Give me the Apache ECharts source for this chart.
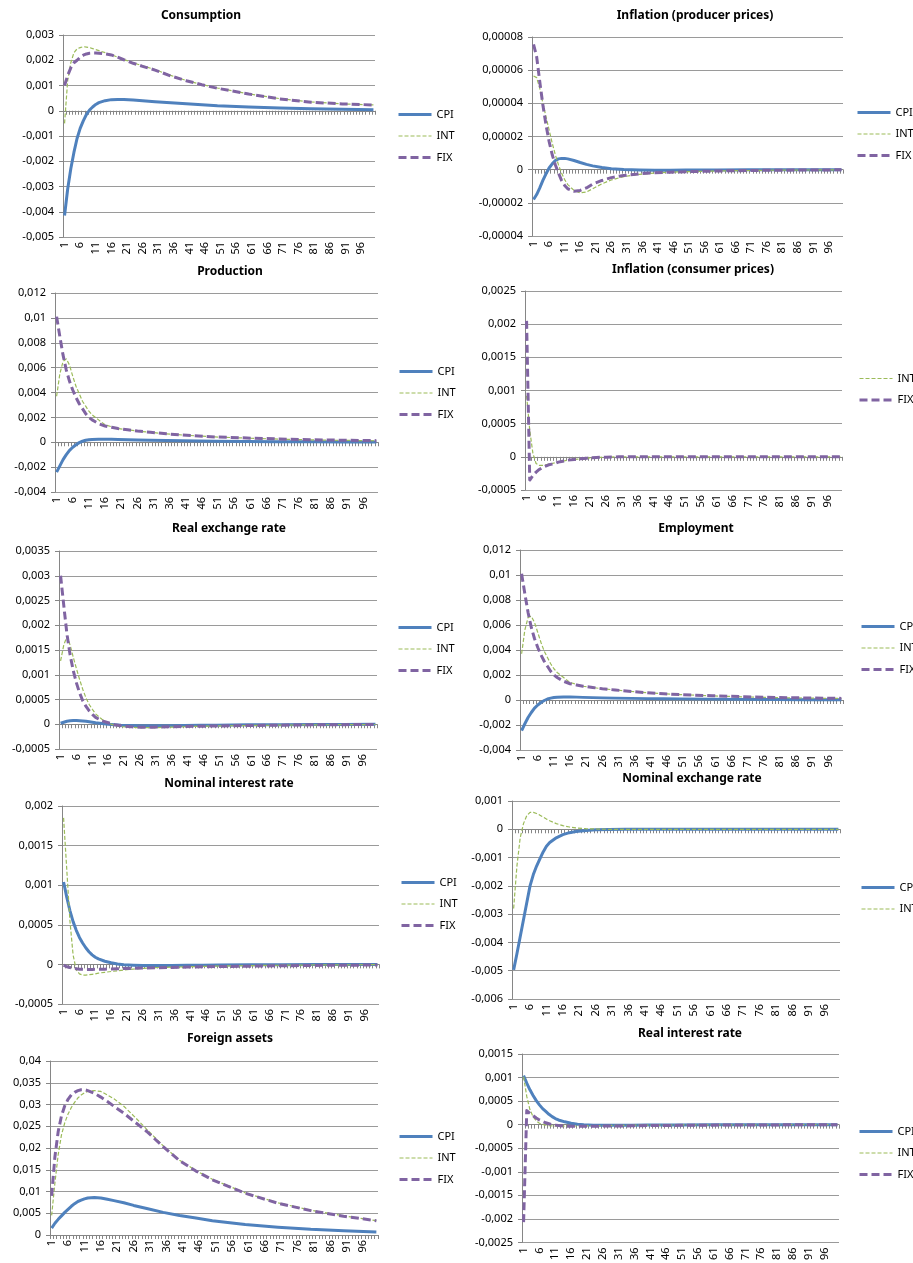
<!DOCTYPE html>
<html><head><meta charset="utf-8">
<script src="https://cdn.jsdelivr.net/npm/echarts@6/dist/echarts.min.js"></script>
<style>html,body{margin:0;padding:0;background:#fff}#c{width:913px;height:1263px}</style>
</head><body><div id="c"></div>
<script>
// ---------- DATA ----------
const periods = [1,2,3,4,5,6,7,8,9,10,11,12,14,16,18,20,23,26,30,35,40,45,50,60,70,80,90,100];
const categories = Array.from({length: 100}, (_, i) => String(i + 1));

const consumptionCPI = [-0.00415,-0.0031,-0.0023,-0.00165,-0.0011,-0.0007,-0.0004,-0.00015,0.00003,0.00015,0.00025,0.00032,0.0004,0.00044,0.00045,0.00045,0.00043,0.0004,0.00036,0.00032,0.00028,0.00024,0.0002,0.00015,0.00011,0.00008,0.00006,0.00004];
const consumptionINT = [-0.0005,0.0012,0.0019,0.0023,0.00245,0.0025,0.00254,0.00252,0.0025,0.00246,0.00242,0.00238,0.0023,0.00222,0.00212,0.00203,0.0019,0.00178,0.00163,0.0014,0.0012,0.00104,0.0009,0.00067,0.00048,0.00035,0.00027,0.00023];
const consumptionFIX = [0.001,0.0014,0.0017,0.0019,0.002,0.00212,0.0022,0.00225,0.00228,0.00229,0.00229,0.00228,0.00225,0.00221,0.00212,0.00202,0.00188,0.00176,0.00161,0.00138,0.00119,0.00103,0.00089,0.00066,0.00047,0.00034,0.00027,0.00023];

const ppiCPI = [-0.000018,-0.000015,-0.000011,-0.0000065,-0.0000025,0.000001,0.0000035,0.0000055,0.0000065,0.0000068,0.0000068,0.0000065,0.0000055,0.0000043,0.0000032,0.0000023,0.0000013,0.0000006,0.0000001,-0.0000002,-0.0000003,-0.0000003,-0.0000002,-0.0000002,-0.0000001,-0.0000001,0,0];
const ppiINT = [0.0000565,0.0000555,0.000049,0.00004,0.000032,0.000024,0.000016,0.000009,0.000003,-0.000002,-0.000006,-0.000009,-0.0000125,-0.000014,-0.0000135,-0.0000115,-0.0000085,-0.0000062,-0.0000042,-0.0000028,-0.000002,-0.0000015,-0.0000012,-0.0000008,-0.0000005,-0.0000003,-0.0000002,-0.0000001];
const ppiFIX = [0.0000755,0.000068,0.000053,0.000039,0.000027,0.000017,0.000009,0.000003,-0.000002,-0.0000065,-0.0000095,-0.0000115,-0.000013,-0.0000125,-0.000011,-0.0000087,-0.0000065,-0.0000048,-0.0000035,-0.0000025,-0.0000019,-0.0000015,-0.0000012,-0.0000008,-0.0000005,-0.0000003,-0.0000002,-0.0000001];

const productionCPI = [-0.0024,-0.0019,-0.0014,-0.001,-0.00065,-0.0004,-0.0002,-0.00003,0.00008,0.00016,0.0002,0.00023,0.00025,0.00025,0.00024,0.00022,0.0002,0.00018,0.00016,0.00014,0.00012,0.0001,0.00009,0.00007,0.00005,0.00004,0.00003,0.00002];
const productionINT = [0.0037,0.0055,0.0065,0.0067,0.0062,0.0053,0.0045,0.0039,0.0033,0.0029,0.0025,0.0022,0.0018,0.0014,0.00125,0.0011,0.001,0.0009,0.0008,0.00068,0.00058,0.0005,0.00043,0.00033,0.00025,0.00019,0.00015,0.00012];
const productionFIX = [0.0101,0.0085,0.007,0.0058,0.0049,0.0042,0.0036,0.0031,0.0027,0.0023,0.002,0.0018,0.0015,0.0013,0.0012,0.0011,0.001,0.0009,0.0008,0.00068,0.00058,0.0005,0.00043,0.00034,0.00026,0.0002,0.00016,0.00013];

const cpiInflINT = [0.00092,0.0004,0.00005,-0.0001,-0.00013,-0.00013,-0.00012,-0.00011,-0.0001,-0.00009,-0.00008,-0.00007,-0.00005,-0.00004,-0.00003,-0.00002,-0.00001,-0.000005,0,0,0,0,0,0,0,0,0,0];
const cpiInflFIX = [0.00205,-0.00035,-0.00028,-0.00023,-0.00019,-0.00016,-0.00014,-0.00012,-0.00011,-0.0001,-0.00008,-0.00007,-0.00005,-0.00004,-0.00003,-0.00002,-0.00001,-0.000005,0,0,0,0,0,0,0,0,0,0];

const rerCPI = [0.00002,0.00004,0.00006,0.00007,0.000075,0.000075,0.00007,0.000065,0.00006,0.00005,0.00004,0.00003,0.000015,0,-0.00001,-0.00002,-0.000025,-0.00003,-0.00003,-0.00003,-0.000025,-0.00002,-0.000018,-0.000012,-0.000008,-0.000005,-0.000003,-0.000002];
const rerINT = [0.00128,0.0016,0.00177,0.0016,0.00135,0.00112,0.0009,0.0007,0.00053,0.0004,0.0003,0.00021,0.0001,0.00002,-0.00002,-0.00005,-0.00006,-0.00007,-0.00007,-0.00006,-0.00005,-0.00004,-0.000035,-0.000025,-0.000018,-0.000012,-0.000008,-0.000005];
const rerFIX = [0.003,0.0024,0.00182,0.0014,0.00108,0.00083,0.00063,0.00047,0.00036,0.00027,0.0002,0.00014,0.00007,0.00003,-0.00001,-0.00003,-0.00005,-0.00006,-0.00006,-0.00005,-0.000045,-0.00004,-0.000035,-0.000025,-0.000018,-0.000012,-0.000008,-0.000005];

const employmentCPI = [-0.00245,-0.0019,-0.0014,-0.001,-0.00065,-0.0004,-0.0002,-0.00004,0.00008,0.00015,0.0002,0.00022,0.00024,0.00024,0.00023,0.00021,0.00019,0.00017,0.00015,0.00013,0.00011,0.0001,0.00009,0.00007,0.00005,0.00004,0.00003,0.00002];
const employmentINT = [0.0037,0.0056,0.0066,0.0067,0.0062,0.0054,0.0046,0.0039,0.0034,0.0029,0.0025,0.0022,0.0018,0.0014,0.00125,0.0011,0.001,0.0009,0.0008,0.00068,0.00058,0.0005,0.00043,0.00033,0.00025,0.00019,0.00015,0.00012];
const employmentFIX = [0.0101,0.0085,0.007,0.0058,0.0049,0.0042,0.0036,0.0031,0.0027,0.0023,0.002,0.0018,0.0015,0.0013,0.0012,0.0011,0.001,0.0009,0.0008,0.00068,0.00058,0.0005,0.00043,0.00034,0.00026,0.0002,0.00016,0.00013];

const nirCPI = [0.00104,0.00085,0.00068,0.00054,0.00043,0.00034,0.00027,0.00021,0.00016,0.00012,0.00009,0.00007,0.00004,0.00002,0.000005,-0.000005,-0.00001,-0.000015,-0.000015,-0.000015,-0.000012,-0.00001,-0.000008,-0.000005,-0.000003,-0.000002,-0.000001,0];
const nirINT = [0.00185,0.0012,0.00055,0.00012,-0.00007,-0.00012,-0.000135,-0.000135,-0.00013,-0.000125,-0.00012,-0.00011,-0.0001,-0.00009,-0.00008,-0.00007,-0.00006,-0.00005,-0.00004,-0.000035,-0.00003,-0.000025,-0.00002,-0.000015,-0.00001,-0.000007,-0.000005,-0.000003];
const nirFIX = [-0.00001,-0.00003,-0.00004,-0.00005,-0.000055,-0.00006,-0.000062,-0.000063,-0.000063,-0.000063,-0.000062,-0.000062,-0.00006,-0.000058,-0.000055,-0.000052,-0.00005,-0.000046,-0.000042,-0.000038,-0.000034,-0.00003,-0.000027,-0.000022,-0.000017,-0.000013,-0.00001,-0.000008];

const nerCPI = [-0.00497,-0.0044,-0.0038,-0.0032,-0.0026,-0.002,-0.0016,-0.0013,-0.00105,-0.0008,-0.0006,-0.00047,-0.0003,-0.00019,-0.00012,-0.00008,-0.00004,-0.00002,-0.00001,0,0,0,0,0,0,0,0,0];
const nerINT = [-0.0028,-0.0013,-0.0003,0.0002,0.00048,0.0006,0.0006,0.00056,0.0005,0.00043,0.00036,0.0003,0.0002,0.00013,0.00008,0.00005,0.00002,0.00001,0,0,0,0,0,0,0,0,0,0];

const faCPI = [0.0016,0.0027,0.0036,0.0044,0.0052,0.0059,0.0066,0.0072,0.0077,0.008,0.0083,0.0085,0.0086,0.0085,0.0082,0.0079,0.0074,0.0068,0.0061,0.0052,0.0045,0.0039,0.0033,0.0024,0.0018,0.0013,0.001,0.0007];
const faINT = [0.0045,0.012,0.0185,0.023,0.0258,0.0278,0.0293,0.0305,0.0315,0.0322,0.0327,0.033,0.0332,0.033,0.0322,0.0313,0.0296,0.0274,0.0243,0.0205,0.0172,0.0148,0.0128,0.0097,0.0074,0.0057,0.0044,0.0033];
const faFIX = [0.009,0.018,0.0238,0.0274,0.0297,0.0312,0.0322,0.0328,0.0332,0.0334,0.0334,0.0332,0.0326,0.0317,0.0307,0.0296,0.028,0.0262,0.0238,0.0203,0.0171,0.0147,0.0127,0.0096,0.0073,0.0056,0.0043,0.0033];

const rirCPI = [0.00104,0.00088,0.00074,0.00062,0.00051,0.00042,0.00034,0.00028,0.00022,0.00017,0.00013,0.0001,0.00006,0.00003,0.00001,0,-0.00001,-0.00001,-0.00001,-0.00001,-0.000008,-0.000006,-0.000005,-0.000003,-0.000002,-0.000001,0,0];
const rirINT = [0.00102,0.0006,0.00032,0.00017,0.00008,0.00003,0.000005,-0.00001,-0.00002,-0.000025,-0.00003,-0.00003,-0.00003,-0.00003,-0.000028,-0.000025,-0.00002,-0.00002,-0.000015,-0.000012,-0.00001,-0.000008,-0.000006,-0.000004,-0.000003,-0.000002,-0.000001,0];
const rirFIX = [-0.00207,0.0003,0.00024,0.00019,0.00014,0.0001,0.00007,0.00004,0.00002,0,-0.00001,-0.00002,-0.00003,-0.000035,-0.000035,-0.000035,-0.000035,-0.00003,-0.00003,-0.000025,-0.00002,-0.000018,-0.000015,-0.00001,-0.000007,-0.000005,-0.000003,-0.000002];

const panelTitles = ['Consumption','Inflation (producer prices)','Production','Inflation (consumer prices)','Real exchange rate','Employment','Nominal interest rate','Nominal exchange rate','Foreign assets','Real interest rate'];
const panelSeries = [
  {CPI: consumptionCPI, INT: consumptionINT, FIX: consumptionFIX},
  {CPI: ppiCPI, INT: ppiINT, FIX: ppiFIX},
  {CPI: productionCPI, INT: productionINT, FIX: productionFIX},
  {INT: cpiInflINT, FIX: cpiInflFIX},
  {CPI: rerCPI, INT: rerINT, FIX: rerFIX},
  {CPI: employmentCPI, INT: employmentINT, FIX: employmentFIX},
  {CPI: nirCPI, INT: nirINT, FIX: nirFIX},
  {CPI: nerCPI, INT: nerINT},
  {CPI: faCPI, INT: faINT, FIX: faFIX},
  {CPI: rirCPI, INT: rirINT, FIX: rirFIX}
];
const yMin = [-0.005,-0.00004,-0.004,-0.0005,-0.0005,-0.004,-0.0005,-0.006,0,-0.0025];
const yMax = [0.003,0.00008,0.012,0.0025,0.0035,0.012,0.002,0.001,0.04,0.0015];
const yStep = [0.001,0.00002,0.002,0.0005,0.0005,0.002,0.0005,0.001,0.005,0.0005];

// ---------- LAYOUT / STYLE ----------
const layout = [
  {g:[63,35,375,237],   t:[201,14],   l:[397,115]},
  {g:[532,37,843,236],  t:[695,14],   l:[856,113]},
  {g:[55,293,378,492],  t:[230,270],  l:[398,372]},
  {g:[525,291,842,490], t:[693,268],  l:[858,379]},
  {g:[59,551,377,749],  t:[229,527],  l:[397,628]},
  {g:[520,550,843,750], t:[696,527],  l:[860,627]},
  {g:[62,806,379,1004], t:[229,782],  l:[400,883]},
  {g:[512,801,840,999], t:[692,777],  l:[860,888]},
  {g:[50,1061,378,1235],t:[230,1037], l:[398,1137]},
  {g:[522,1054,839,1253],t:[690,1032],l:[858,1132]}
];
const styles = {
  CPI: {color:'#4F81BD', width:3, type:'solid'},
  INT: {color:'#9BBB59', width:1.2, type:[4,2]},
  FIX: {color:'#8064A2', width:3, type:[8,4]}
};
const FONT = 'Noto Sans';
const axisGray = '#868686';
const fmt = v => String(+(+v).toPrecision(10)).replace('.', ',');

const option = {animation:false, textStyle:{fontFamily:FONT}, title:[], grid:[], xAxis:[], yAxis:[], legend:[], series:[]};

panelTitles.forEach((name, i) => {
  const L = layout[i];
  option.title.push({text:name, left:L.t[0], top:L.t[1]-4, textAlign:'center', padding:0,
    textStyle:{fontSize:12, fontWeight:'bold', color:'#000', fontFamily:FONT}});
  option.grid.push({left:L.g[0], top:L.g[1], width:L.g[2]-L.g[0], height:L.g[3]-L.g[1]});
  option.xAxis.push({type:'category', gridIndex:i, data:categories, boundaryGap:true,
    axisLine:{onZero:true, lineStyle:{color:axisGray}},
    axisTick:{show:true, interval:0, length:4, lineStyle:{color:axisGray}},
    axisLabel:{interval:4, rotate:90, fontSize:11, color:'#000', margin:5, fontFamily:FONT},
    splitLine:{show:false}});
  option.yAxis.push({type:'value', gridIndex:i, min:yMin[i], max:yMax[i], interval:yStep[i],
    axisLine:{show:true, lineStyle:{color:axisGray}},
    axisTick:{show:true, length:4, lineStyle:{color:axisGray}},
    axisLabel:{fontSize:11, color:'#000', margin:9, fontFamily:FONT, formatter:fmt},
    splitLine:{show:true, lineStyle:{color:'#9a9a9a', width:1}}});
  const names = Object.keys(panelSeries[i]);
  option.legend.push({orient:'vertical', left:L.l[0], top:L.l[1]-6, itemWidth:33, itemHeight:12, itemGap:10.5,
    padding:0, selectedMode:false, itemStyle:{opacity:0},
    data:names.map(n => ({name:n, lineStyle:{width:styles[n].width, type:styles[n].type, color:styles[n].color}})),
    textStyle:{fontSize:11, color:'#000', fontFamily:FONT}});
  names.forEach(n => {
    const s = styles[n];
    option.series.push({name:n, type:'line', xAxisIndex:i, yAxisIndex:i, symbol:'none', smooth:false,
      lineStyle:{color:s.color, width:s.width, type:s.type, cap:'butt', join:'round'},
      itemStyle:{color:s.color},
      data: periods.map((p, k) => [p - 1, panelSeries[i][n][k]])});
  });
});

const chart = echarts.init(document.getElementById('c'), null, {renderer:'canvas'});
chart.setOption(option);
</script></body></html>
